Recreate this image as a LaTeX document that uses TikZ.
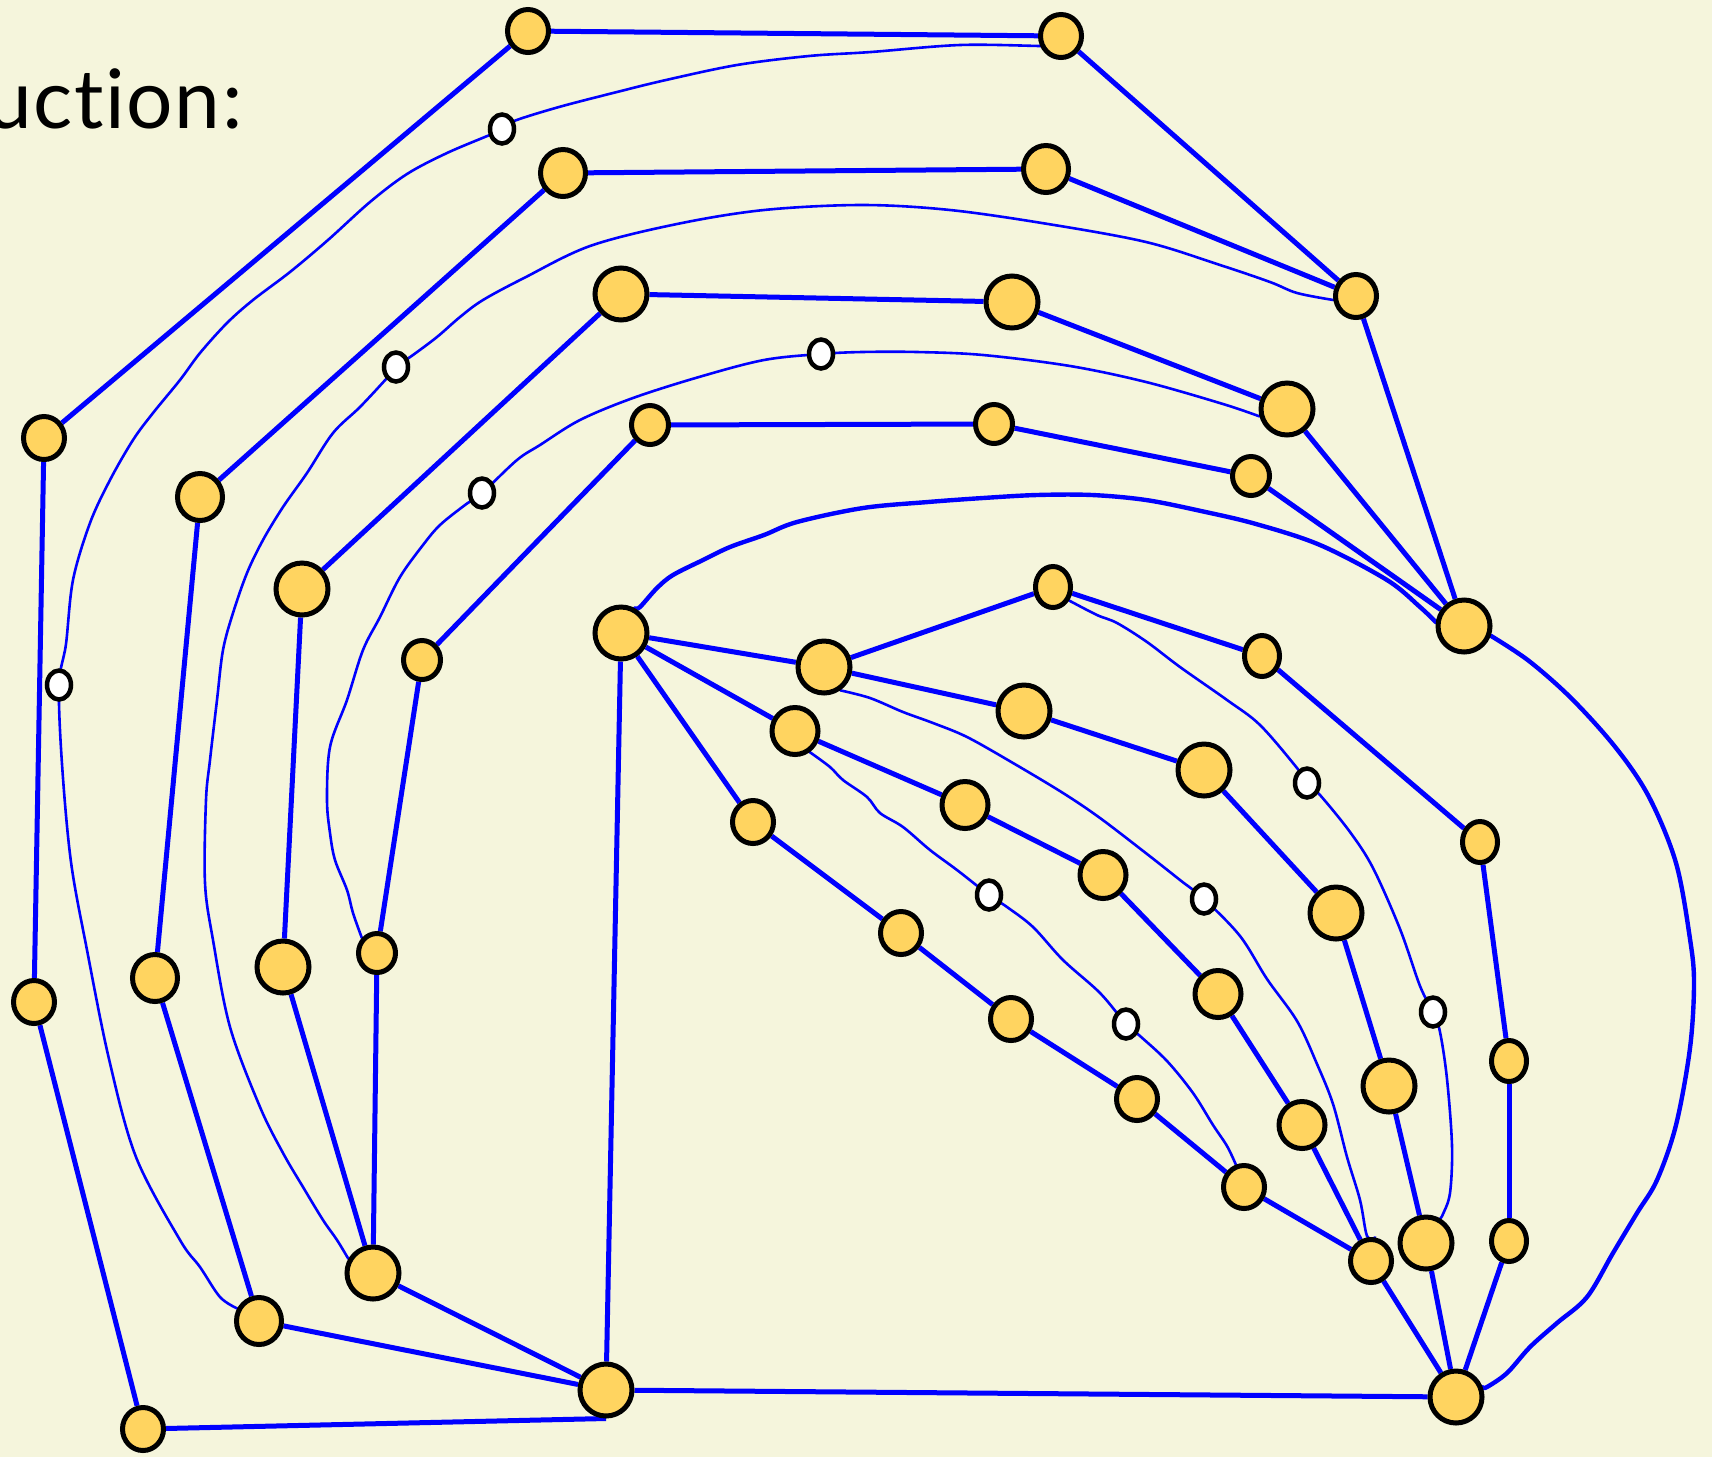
\documentclass[tikz,border=0pt]{standalone}
\usepackage{fontspec}
\newfontfamily\handfont[Ligatures=NoCommon, LetterSpace=2]{Lato}
\usetikzlibrary{shapes.geometric}
\definecolor{paper}{HTML}{F5F5DC}
\definecolor{dotfill}{HTML}{FFD460}
\definecolor{wire}{HTML}{0000FF}
\pgfdeclarelayer{paperlayer}
\pgfdeclarelayer{wirelayer}
\pgfsetlayers{paperlayer,wirelayer,main}
\begin{document}
\begin{tikzpicture}[x=1pt,y=-1pt,
  dot/.style={ellipse, draw=black, line width=5pt, fill=dotfill, inner sep=0pt},
  nA/.style={dot, minimum width=41pt, minimum height=43pt},
  nB/.style={dot, minimum width=45pt, minimum height=47pt},
  nC/.style={dot, minimum width=52pt, minimum height=52pt},
  nD/.style={dot, minimum width=37pt, minimum height=39pt},
  nE/.style={dot, minimum width=35pt, minimum height=41pt},
  nG/.style={dot, minimum width=46pt, minimum height=47pt},
  nK/.style={dot, minimum width=41pt, minimum height=43pt},
  nW/.style={ellipse, draw=black, line width=4.5pt, fill=white, inner sep=0pt,
             minimum width=24pt, minimum height=29pt},
  edge/.style={draw=wire, line width=5pt},
  hand/.style={draw=wire, line width=2.6pt, line cap=round, line join=round},
  handthick/.style={draw=wire, line width=4.4pt, line cap=round, line join=round},
]
\useasboundingbox (0,0) rectangle (1712,1457);
\begin{pgfonlayer}{paperlayer}
  \fill[paper] (0,0) rectangle (1712,1457);
\end{pgfonlayer}

\node[anchor=base west, inner sep=0pt, font=\handfont\fontsize{82}{88}\selectfont] (title) at (-14,128) {uction:};

% outer ring
\node[nA] (A1) at (528,31) {};
\node[nA] (A2) at (1061,36) {};
\node[nA] (A3) at (1356,296) {};
\node[nC] (A4) at (1464,626) {};
\node[nA] (A5) at (44,438) {};
\node[nA] (A6) at (34,1002) {};
\node[nA] (A7) at (143,1429) {};
\node[nC] (A8) at (606,1390) {};
\node[nC] (A9) at (1456,1397) {};
% second ring
\node[nB] (B1) at (563,173) {};
\node[nB] (B2) at (1046,169) {};
\node[nB] (B4) at (200,497) {};
\node[nB] (B5) at (155,978) {};
\node[nB] (B6) at (259,1321) {};
% third ring
\node[nC] (C1) at (621,294) {};
\node[nC] (C2) at (1012,302) {};
\node[nC] (C3) at (1287,409) {};
\node[nC] (C4) at (302,589) {};
\node[nC] (C5) at (283,967) {};
\node[nC] (C6) at (373,1273) {};
% fourth ring
\node[nD] (D1) at (650,425) {};
\node[nD] (D2) at (994,424) {};
\node[nD] (D3) at (1251,476) {};
\node[nD] (D4) at (422,660) {};
\node[nD] (D5) at (377,953) {};
% fan
\node[nC] (H) at (621,633) {};
\node[nC] (E1) at (824,667) {};
\node[nE] (E2) at (1053,587) {};
\node[nE] (E3) at (1262,656) {};
\node[nE] (E4) at (1480,842) {};
\node[nE] (E5) at (1509,1061) {};
\node[nE] (E6) at (1509,1241) {};
\node[nC] (F1) at (1024,711) {};
\node[nC] (F2) at (1204,770) {};
\node[nC] (F3) at (1336,913) {};
\node[nC] (F4) at (1389,1086) {};
\node[nC] (F5) at (1426,1243) {};
\node[nG] (G1) at (795,731) {};
\node[nG] (G2) at (965,805) {};
\node[nG] (G3) at (1103,875) {};
\node[nG] (G4) at (1218,994) {};
\node[nG] (G5) at (1302,1125) {};
\node[nK] (G6) at (1371,1261) {};
\node[nK] (K1) at (753,822) {};
\node[nK] (K2) at (901,933) {};
\node[nK] (K3) at (1011,1019) {};
\node[nK] (K4) at (1137,1099) {};
\node[nK] (K5) at (1244,1187) {};
% small open markers on the freehand curves
\node[nW] (w1) at (502,129) {};
\node[nW] (w2) at (59,685) {};
\node[nW] (w3) at (396,367) {};
\node[nW] (w4) at (821,354) {};
\node[nW] (w5) at (482,493) {};
\node[nW] (w6) at (1307,783) {};
\node[nW] (w7) at (989,895) {};
\node[nW] (w8) at (1204,899) {};
\node[nW] (w9) at (1126,1024) {};
\node[nW] (w10) at (1433,1012) {};

\begin{pgfonlayer}{wirelayer}
  % straight connections
  \foreach \a/\b in {A1/A2, A2/A3, A3/A4, A1/A5, A5/A6, A6/A7, A7/A8.south, A8/A9,
                     B1/B2, B2/A3, B1/B4, B4/B5, B5/B6, B6/A8,
                     C1/C2, C2/C3, C3/A4, C1/C4, C4/C5, C5/C6, C6/A8,
                     D1/D2, D2/D3, D3/A4, D1/D4, D4/D5, D5/C6,
                     H/A8, H/E1, E1/E2, E2/E3, E3/E4, E4/E5, E5/E6, E6/A9,
                     E1/F1, F1/F2, F2/F3, F3/F4, F4/F5, F5/A9,
                     H/G1, G1/G2, G2/G3, G3/G4, G4/G5, G5/G6, G6/A9,
                     H/K1, K1/K2, K2/K3, K3/K4, K4/K5, K5/G6}
    \draw[edge] (\a) -- (\b);

  % freehand curves
  \draw[hand] plot[smooth, tension=0.55] coordinates {(A2.205) (1040,46) (960,45) (871,52) (809,56)
    (737,65) (666,80) (617,92) (559,107) (514,121) (w1) (492,134) (447,153) (407,174)
    (370,202) (328,240) (290,272) (253,300) (227,323) (200,353) (180,380) (153,413)
    (133,440) (110,480) (90,523) (73,580) (66,644) (w2) (62,764) (71,862) (87,950)
    (109,1059) (136,1157) (180,1240) (200,1267) (220,1297) (B6.150)};

  \draw[hand] plot[smooth, tension=0.55] coordinates {(A3.190) (1297,293) (1270,282) (1220,265)
    (1146,242) (1048,224) (950,210) (862,205) (764,210) (677,224) (590,246) (524,278)
    (483,300) (460,317) (437,337) (413,355) (w3) (387,378) (360,407) (333,433) (307,473)
    (283,507) (263,540) (247,573) (233,613) (223,650) (217,700) (210,760) (206,800)
    (205,883) (213,940) (230,1027) (260,1107) (283,1153) (303,1187) (323,1220)
    (337,1240) (C6.150)};

  \draw[hand] plot[smooth, tension=0.55] coordinates {(C3.195) (1223,404) (1146,382) (1070,366)
    (983,355) (917,352) (862,352) (w4) (764,360) (699,377) (633,398) (580,420) (540,445)
    (517,460) (w5) (465,505) (440,525) (423,545) (400,577) (380,617) (363,650) (347,700)
    (330,747) (327,800) (330,833) (335,860) (347,890) (353,913) (D5.135)};

  \draw[handthick] plot[smooth, tension=0.55] coordinates {(A4.172) (1420,607) (1387,580)
    (1320,545) (1256,524) (1201,511) (1146,500) (1092,495) (1037,495) (983,498) (928,502)
    (863,508) (797,522) (764,535) (730,547) (703,560) (673,575) (657,588) (640,607) (H.60)};

  \draw[handthick] plot[smooth, tension=0.55] coordinates {(A4.-20) (1529,661) (1572,699)
    (1616,748) (1649,797) (1676,863) (1690,939) (1694,983) (1690,1048) (1676,1125)
    (1657,1180) (1637,1213) (1613,1253) (1587,1297) (1557,1323) (1530,1347) (1507,1373)
    (1487,1387) (A9.20)};

  \draw[hand] plot[smooth, tension=0.55] coordinates {(E2.-40) (1097,615) (1117,623) (1147,642)
    (1180,667) (1227,700) (1260,725) (1297,768) (w6) (1320,795) (1350,832) (1373,868)
    (1400,929) (1420,986) (w10) (1440,1032) (1447,1079) (1452,1146) (1450,1193)
    (1443,1214) (F5.60)};

  \draw[hand] plot[smooth, tension=0.55] coordinates {(E1.-55) (870,698) (903,712) (933,723)
    (967,737) (1013,763) (1063,793) (1100,818) (1147,854) (1180,880) (w8) (1240,936)
    (1267,979) (1297,1021) (1317,1064) (1333,1104) (1347,1157) (1360,1200) (1367,1236)
    (G6.80)};

  \draw[hand] plot[smooth, tension=0.55] coordinates {(G1.-55) (830,767) (843,780) (867,797)
    (880,813) (903,827) (930,850) (957,870) (w7) (1007,907) (1033,927) (1063,960)
    (1100,993) (w9) (1140,1036) (1167,1061) (1193,1093) (1213,1125) (1227,1146) (K5.110)};
\end{pgfonlayer}
\end{tikzpicture}
\end{document}
